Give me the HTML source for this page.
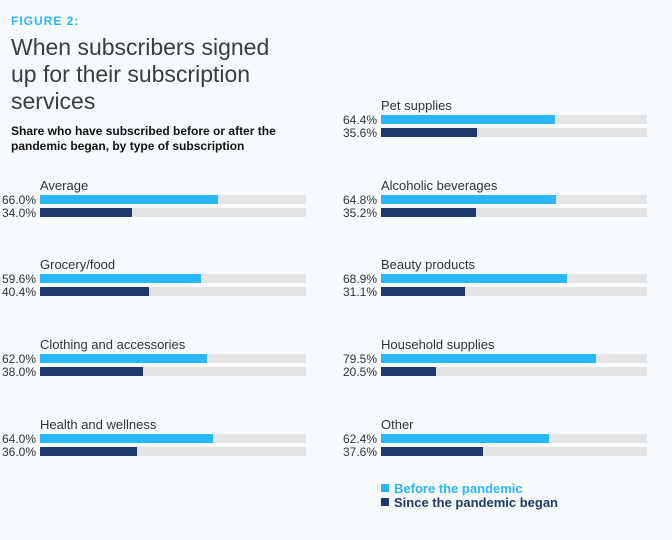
<!DOCTYPE html>
<html><head><style>
body{margin:0;width:672px;height:540px;background:#f6fafc;font-family:"Liberation Sans",sans-serif;position:relative;overflow:hidden}
.a{position:absolute;white-space:nowrap}
.fig{left:11px;top:14px;font-size:12px;font-weight:bold;color:#2cb5f5;letter-spacing:1px}
.t{left:11px;top:34px;font-size:23px;line-height:27px;color:#3c3c3c}
.s{left:11px;top:124px;font-size:12px;line-height:15px;font-weight:bold;color:#111}
.lab{font-size:13px;color:#333}
.pct{font-size:12px;color:#333;text-align:right;width:40px}
.tr{position:absolute;height:9px;background:#e4e4e4;width:266px}
.b1{height:100%;background:#2bb6f7}
.b2{height:100%;background:#1d3a6a}
.lg{font-size:13px;font-weight:bold}
.sq{position:absolute;width:8px;height:8px}
</style></head><body>
<div class="a fig">FIGURE 2:</div>
<div class="a t">When subscribers signed<br>up for their subscription<br>services</div>
<div class="a s">Share who have subscribed before or after the<br>pandemic began, by type of subscription</div>
<div id="c"></div>
<script>
var d=[[40,185,"Average",66.0,34.0],[40,264,"Grocery/food",59.6,40.4],[40,344,"Clothing and accessories",62.0,38.0],[40,424,"Health and wellness",64.0,36.0],
[381,105,"Pet supplies",64.4,35.6],[381,185,"Alcoholic beverages",64.8,35.2],[381,264,"Beauty products",68.9,31.1],[381,344,"Household supplies",79.5,20.5],[381,424,"Other",62.4,37.6]];
var h="";
d.forEach(function(r){var x=r[0],y=r[1];
h+='<div class="a lab" style="left:'+x+'px;top:'+(y-7)+'px">'+r[2]+'</div>';
h+='<div class="a pct" style="left:'+(x-44)+'px;top:'+(y+8)+'px">'+r[3].toFixed(1)+'%</div>';
h+='<div class="a pct" style="left:'+(x-44)+'px;top:'+(y+21)+'px">'+r[4].toFixed(1)+'%</div>';
h+='<div class="tr" style="left:'+x+'px;top:'+(y+10)+'px"><div class="b1" style="width:'+(r[3]*2.7)+'px"></div></div>';
h+='<div class="tr" style="left:'+x+'px;top:'+(y+23)+'px"><div class="b2" style="width:'+(r[4]*2.7)+'px"></div></div>';});
document.getElementById("c").innerHTML=h;
</script>
<div class="sq" style="left:381px;top:484px;background:#2bb6f7"></div>
<div class="a lg" style="left:394px;top:481px;color:#2bb6f7">Before the pandemic</div>
<div class="sq" style="left:381px;top:498px;background:#1d3a6a"></div>
<div class="a lg" style="left:394px;top:495px;color:#1d3a6a">Since the pandemic began</div>
</body></html>
